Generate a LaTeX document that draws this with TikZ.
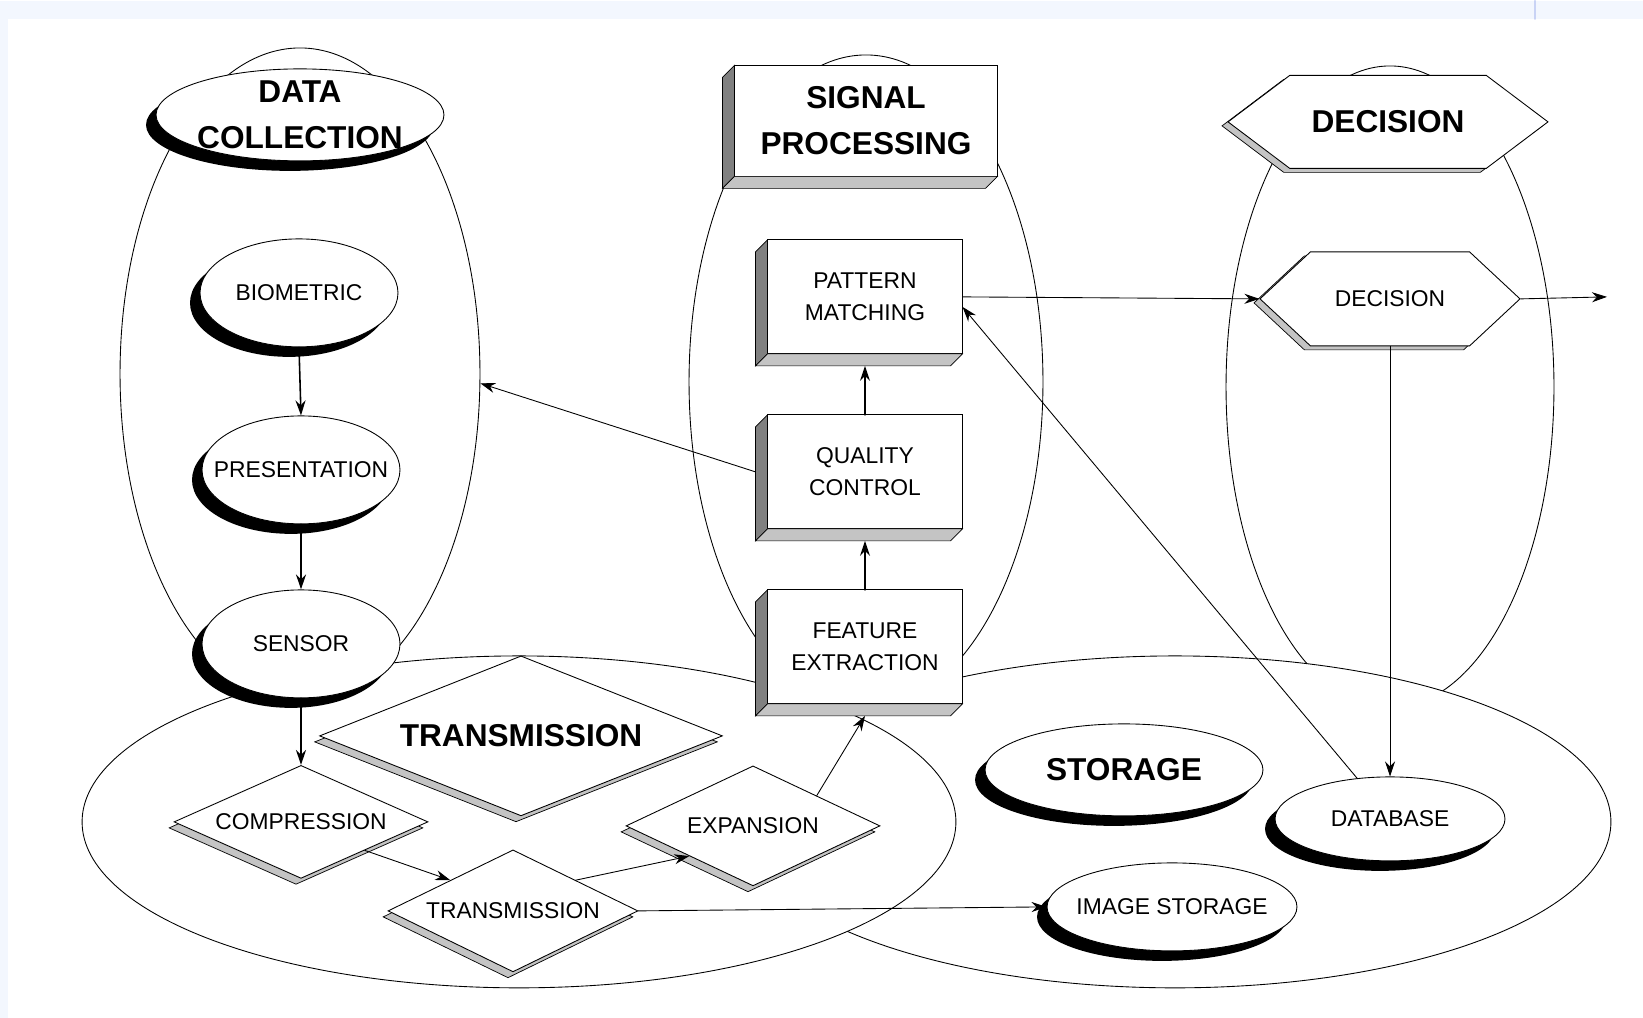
\documentclass[tikz,border=0pt]{standalone}
\usepackage{fontspec}
\setmainfont{Liberation Sans}
\usepackage{tikz}
\usetikzlibrary{arrows.meta,shapes.geometric,shapes.symbols,shadows}
\usepackage{xcolor}
\definecolor{pagebg}{HTML}{F3F7FE}
\definecolor{tabline}{HTML}{C9D3F5}
\definecolor{sideshade}{HTML}{808080}
\definecolor{baseshade}{HTML}{C4C4C4}
\tikzset{
  zone/.style={ellipse,draw,fill=white,inner sep=0pt,line width=0.5pt},
  blob/.style={ellipse,draw,fill=white,inner xsep=-0.5cm,inner ysep=-0.1cm,line width=0.5pt,align=center,
    drop shadow={shadow xshift=-0.2cm,shadow yshift=-0.2cm,fill=black,opacity=1}},
  slab/.style={rectangle,draw,fill=white,inner sep=0pt,outer sep=0pt,line width=0.5pt,align=center},
  gem/.style={diamond,draw,fill=white,inner sep=0pt,line width=0.5pt,align=center,aspect=2.08,
    drop shadow={shadow xshift=-0.1cm,shadow yshift=-0.12cm,fill=baseshade,draw=black,line width=0.4pt,opacity=1}},
  hexa/.style={signal,signal to=east and west,draw,fill=white,inner sep=0pt,line width=0.5pt,
    drop shadow={shadow xshift=-0.12cm,shadow yshift=-0.08cm,fill=baseshade,draw=black,line width=0.4pt,opacity=1}},
  head/.style={font=\bfseries\fontsize{18}{26}\selectfont},
  heavy/.style={line width=0.9pt},
}

\begin{document}
\begin{tikzpicture}[x=0.02cm,y=-0.02cm,>={Stealth[length=0.3cm,width=0.2cm]},font=\fontsize{13}{18}\selectfont,line cap=round,line width=0.5pt]
\fill[pagebg] (0,0) rectangle (1643,1017);
\fill[white] (8,18) rectangle (1643,1017);
\draw[tabline,line width=1pt] (1535,0) -- (1535,18);
\useasboundingbox (0,0) rectangle (1643,1017);

\node[zone,minimum width=7.2cm,minimum height=13.04cm] (dczone) at (300,373) {};
\node[zone,minimum width=7.08cm,minimum height=13.08cm] (spzone) at (866,381) {};
\node[zone,minimum width=6.56cm,minimum height=12.84cm] (deczone) at (1390,386) {};
\node[zone,minimum width=17.44cm,minimum height=6.64cm] (stzone) at (1175,821) {};
\node[zone,minimum width=17.48cm,minimum height=6.64cm] (txzone) at (519,821) {};

\node[blob,head,minimum width=5.76cm,minimum height=1.84cm] (dchead) at (300,114) {DATA\\COLLECTION};
\node[blob,minimum width=3.96cm,minimum height=2.16cm] (biometric) at (299,292) {BIOMETRIC};
\node[blob,minimum width=3.96cm,minimum height=2.16cm] (presentation) at (301,469) {PRESENTATION};
\node[blob,minimum width=3.96cm,minimum height=2.16cm] (sensor) at (301,643) {SENSOR};

\node[slab,head,minimum width=5.26cm,minimum height=2.22cm] (sphead) at (866,120) {SIGNAL\\PROCESSING};
\node[slab,minimum width=3.9cm,minimum height=2.28cm] (pattern) at (865,296) {PATTERN\\MATCHING};
\node[slab,minimum width=3.9cm,minimum height=2.28cm] (quality) at (865,471) {QUALITY\\CONTROL};
\node[slab,minimum width=3.9cm,minimum height=2.28cm] (feature) at (865,646) {FEATURE\\EXTRACTION};

\node[hexa,head,signal pointer angle=74,minimum width=6.4cm,minimum height=1.86cm] (dechead) at (1388,121) {DECISION};
\node[hexa,signal pointer angle=86,minimum width=5.2cm,minimum height=1.88cm] (decision) at (1390,298) {DECISION};

\node[gem,head,aspect=2.52,minimum width=8.06cm,minimum height=3.2cm] (txhead) at (521,735) {TRANSMISSION};
\node[gem,aspect=2.25,minimum width=5.08cm,minimum height=2.26cm] (compression) at (301,821) {COMPRESSION};
\node[gem,minimum width=5cm,minimum height=2.44cm] (transmission) at (513,910) {TRANSMISSION};
\node[gem,minimum width=5.08cm,minimum height=2.4cm] (expansion) at (753,825) {EXPANSION};

\node[blob,head,minimum width=5.56cm,minimum height=1.84cm] (sthead) at (1124,769) {STORAGE};
\node[blob,minimum width=4.6cm,minimum height=1.68cm] (database) at (1390,818) {DATABASE};
\node[blob,minimum width=5cm,minimum height=1.76cm] (imagestore) at (1172,906) {IMAGE STORAGE};
\coordinate (out) at (1607,296);

\foreach \b in {sphead,pattern,quality,feature}{
  \filldraw[fill=sideshade,line width=0.4pt] (\b.north west) -- ([shift={(-12,12)}]\b.north west) -- ([shift={(-12,12)}]\b.south west) -- (\b.south west) -- cycle;
  \filldraw[fill=baseshade,line width=0.4pt] (\b.south west) -- ([shift={(-12,12)}]\b.south west) -- ([shift={(-12,12)}]\b.south east) -- (\b.south east) -- cycle;
}

\draw[->,heavy] (biometric.south) -- (presentation.north);
\draw[->,heavy] (presentation.south) -- (sensor.north);
\draw[->,heavy] (sensor.south) -- (compression.north);
\draw[->] (compression.south east) -- (transmission.north west);
\draw[->] (transmission.north east) -- (expansion.south west);
\draw[->] (expansion.north east) -- ([yshift=-0.24cm]feature.south);
\draw[->,heavy] (feature.north) -- ([yshift=-0.24cm]quality.south);
\draw[->,heavy] (quality.north) -- ([yshift=-0.24cm]pattern.south);
\draw[->] ([xshift=-0.24cm]quality.west) -- (dczone.-3);
\draw[->] (pattern.east) -- (decision.west);
\draw[->] (decision.east) -- (out);
\draw[->] (decision.south) -- (database.north);
\draw[->] (database.129) -- ([yshift=-0.2cm]pattern.east);
\draw[->] (transmission.east) -- (imagestore.west);
\end{tikzpicture}
\end{document}
